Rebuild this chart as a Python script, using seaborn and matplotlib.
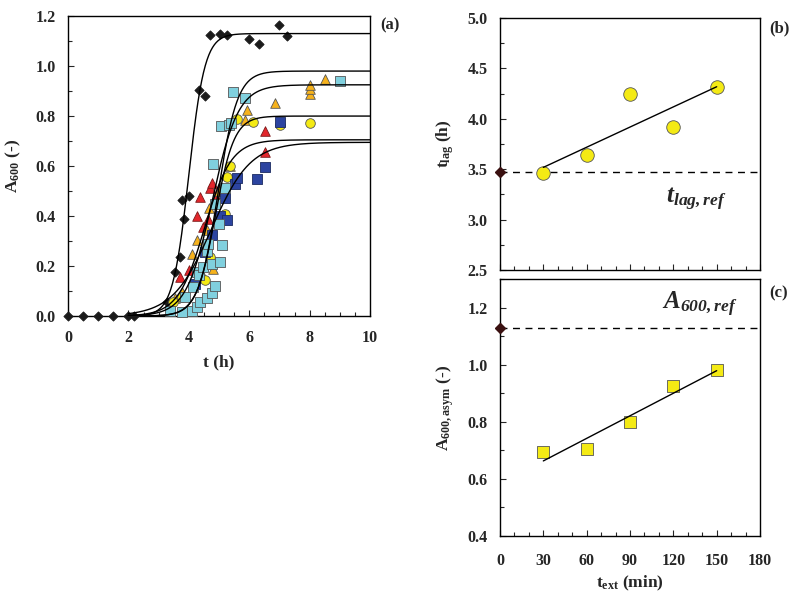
import numpy as np
import pandas as pd
import matplotlib
matplotlib.use("Agg")
import matplotlib.pyplot as plt
import seaborn as sns
from matplotlib.ticker import MultipleLocator

# Panel (a): absorbance vs time, reference culture (black diamonds)
ref_t = [0, 0.5, 1, 1.5, 2, 2.2, 3.28, 3.54, 3.70, 3.76, 3.85, 4.02, 4.35, 4.52,
         4.70, 5.02, 5.26, 6.0, 6.32, 7.0, 7.26]
ref_a = [0, 0, 0, 0, 0, 0, 0.058, 0.175, 0.235, 0.465, 0.39, 0.48, 0.904, 0.88,
         1.125, 1.13, 1.125, 1.11, 1.09, 1.165, 1.12]

# extraction 30 min (dark blue squares)
blue_t = [4.2, 4.54, 4.76, 5.03, 5.2, 5.28, 5.53, 5.61, 6.27, 6.52, 7.02]
blue_a = [0.13, 0.257, 0.325, 0.40, 0.472, 0.384, 0.528, 0.554, 0.548, 0.596, 0.775]

# extraction 60 min (red triangles)
red_t = [3.71, 4.02, 4.26, 4.37, 4.46, 4.62, 4.70, 4.76, 4.90, 5.01, 6.52, 6.52]
red_a = [0.157, 0.185, 0.40, 0.478, 0.355, 0.389, 0.514, 0.531, 0.477, 0.507, 0.657, 0.741]

# extraction 90 min (yellow circles)
yel_t = [3.49, 3.76, 4.54, 4.70, 5.2, 5.28, 5.35, 5.59, 6.11, 7.02, 8.01]
yel_a = [0.057, 0.075, 0.143, 0.236, 0.41, 0.555, 0.60, 0.79, 0.775, 0.765, 0.771]

# extraction 120 min (orange triangles)
ora_t = [3.54, 3.78, 4.12, 4.26, 4.45, 4.59, 4.67, 4.81, 5.0, 5.36, 5.86, 5.94,
         6.84, 8.01, 8.01, 8.01, 8.51]
ora_a = [0.071, 0.095, 0.247, 0.304, 0.17, 0.344, 0.431, 0.19, 0.50, 0.60, 0.786,
         0.826, 0.853, 0.89, 0.907, 0.924, 0.947]

# extraction 150 min (light blue squares)
cya_t = [3.38, 3.76, 3.87, 4.10, 4.15, 4.26, 4.26, 4.35, 4.37, 4.46, 4.59, 4.61,
         4.65, 4.76, 4.76, 4.87, 4.87, 5.01, 5.03, 5.09, 4.79, 5.2, 5.07, 5.32,
         5.40, 5.45, 5.86, 9.0]
cya_a = [0.02, 0.017, 0.077, 0.021, 0.117, 0.037, 0.177, 0.164, 0.055, 0.197,
         0.073, 0.26, 0.288, 0.093, 0.208, 0.121, 0.448, 0.367, 0.215, 0.284,
         0.607, 0.513, 0.76, 0.764, 0.773, 0.897, 0.871, 0.94]

# Panels (b) and (c): fitted parameters vs extraction time
t_ext = [30, 60, 90, 120, 150]
t_lag = [3.46, 3.64, 4.25, 3.92, 4.32]
a_asym = [0.695, 0.705, 0.80, 0.925, 0.98]
mu_max = [0.27, 0.40, 0.64, 0.54, 0.76]
ref_lag = 3.47
ref_asym = 1.13
ref_mu = 1.065


def logistic(t, a, lag, mu):
    return a / (1 + np.exp(4 * mu / a * (lag - t) + 2))


sns.set_style("ticks")
plt.rcParams['font.family'] = ['Liberation Serif', 'DejaVu Serif']
plt.rcParams['font.weight'] = 'bold'
plt.rcParams['mathtext.fontset'] = 'custom'
plt.rcParams['mathtext.rm'] = 'Liberation Serif:bold'
plt.rcParams['mathtext.bf'] = 'Liberation Serif:bold'
plt.rcParams['mathtext.it'] = 'Liberation Serif:italic:bold'
plt.rcParams['mathtext.bfit'] = 'Liberation Serif:italic:bold'
plt.rcParams['axes.linewidth'] = 1.0
plt.rcParams['xtick.direction'] = 'in'
plt.rcParams['ytick.direction'] = 'in'

fig = plt.figure(figsize=(8, 6.02), dpi=100)
ax_a = fig.add_axes([0.085, 0.475, 0.3775, 0.4983])
ax_b = fig.add_axes([0.625, 0.5515, 0.325, 0.4186])
ax_c = fig.add_axes([0.625, 0.1096, 0.325, 0.4269])

edge = '#555555'
series = [
    (ref_t, ref_a, 'D', '#1a1a1a', '#1a1a1a', 22),
    (red_t, red_a, '^', '#e3262b', '#7a1a1a', 48),
    (ora_t, ora_a, '^', '#f6b21c', edge, 48),
    (yel_t, yel_a, 'o', '#f4ea14', edge, 48),
    (blue_t, blue_a, 's', '#2c44a0', '#1a2a60', 42),
    (cya_t, cya_a, 's', '#80d0de', edge, 42),
]
for x, y, m, fc, ec, s in series:
    sns.scatterplot(x=x, y=y, marker=m, color=fc, edgecolor=ec, linewidth=0.6,
                    s=s, ax=ax_a, zorder=3, clip_on=False)

tt = np.linspace(2.0, 10, 400)
sns.lineplot(x=tt, y=logistic(tt, ref_asym, ref_lag, ref_mu), color='black',
             lw=1.0, ax=ax_a, zorder=4)
for a, lag, mu in zip(a_asym, t_lag, mu_max):
    sns.lineplot(x=tt, y=logistic(tt, a, lag, mu), color='black', lw=1.0,
                 ax=ax_a, zorder=4)

ax_a.set_xlim(0, 10)
ax_a.set_ylim(0, 1.2)
ax_a.xaxis.set_major_locator(MultipleLocator(2))
ax_a.xaxis.set_minor_locator(MultipleLocator(0.5))
ax_a.yaxis.set_major_locator(MultipleLocator(0.2))
ax_a.yaxis.set_minor_locator(MultipleLocator(0.1))
ax_a.yaxis.set_major_formatter(matplotlib.ticker.FormatStrFormatter('%.1f'))
ax_a.set_xlabel('t (h)', fontsize=12.5, fontweight='bold', labelpad=6)
ax_a.set_ylabel(r'A$_{\mathbf{600}}$ (-)', fontsize=12.5, fontweight='bold', labelpad=9)
ax_a.text(1.035, 0.995, '(a)', transform=ax_a.transAxes, fontsize=12,
          fontweight='bold', ha='left', va='top')

# Panel (b)
sns.scatterplot(x=t_ext, y=t_lag, marker='o', color='#f4ea14', edgecolor=edge,
                linewidth=0.6, s=95, ax=ax_b, zorder=3)
slope_b, icpt_b = np.polyfit(t_ext, t_lag, 1)
xf = np.array([t_ext[0], t_ext[-1]])
sns.lineplot(x=xf, y=slope_b * xf + icpt_b, color='black', lw=1.0, ax=ax_b, zorder=4)
ax_b.axhline(ref_lag, color='black', lw=1.0, ls=(0, (5, 4)), zorder=2)
ax_b.plot([0], [ref_lag], marker='D', color='#3a1010', ms=5.5, clip_on=False, zorder=5)
ax_b.text(136, 3.2, r'$\mathbfit{t_{lag,ref}}$', fontsize=18, ha='center', va='center')
ax_b.set_xlim(0, 180)
ax_b.set_ylim(2.5, 5.0)
ax_b.yaxis.set_major_locator(MultipleLocator(0.5))
ax_b.yaxis.set_minor_locator(MultipleLocator(0.25))
ax_b.yaxis.set_major_formatter(matplotlib.ticker.FormatStrFormatter('%.1f'))
ax_b.xaxis.set_major_locator(MultipleLocator(30))
ax_b.xaxis.set_minor_locator(MultipleLocator(10))
ax_b.tick_params(axis='x', labelbottom=False)
ax_b.set_ylabel(r't$_{\mathbf{lag}}$ (h)', fontsize=12.5, fontweight='bold', labelpad=8)
ax_b.text(1.035, 0.99, '(b)', transform=ax_b.transAxes, fontsize=12,
          fontweight='bold', ha='left', va='top')

# Panel (c)
sns.scatterplot(x=t_ext, y=a_asym, marker='s', color='#f4ea14', edgecolor=edge,
                linewidth=0.6, s=80, ax=ax_c, zorder=3)
slope_c, icpt_c = np.polyfit(t_ext, a_asym, 1)
sns.lineplot(x=xf, y=slope_c * xf + icpt_c, color='black', lw=1.0, ax=ax_c, zorder=4)
ax_c.axhline(ref_asym, color='black', lw=1.0, ls=(0, (5, 4)), zorder=2)
ax_c.plot([0], [ref_asym], marker='D', color='#3a1010', ms=5.5, clip_on=False, zorder=5)
ax_c.text(138, 1.21, r'$\mathbfit{A_{600,ref}}$', fontsize=18, ha='center', va='center')
ax_c.set_xlim(0, 180)
ax_c.set_ylim(0.4, 1.3)
ax_c.set_yticks([0.4, 0.6, 0.8, 1.0, 1.2])
ax_c.yaxis.set_minor_locator(MultipleLocator(0.1))
ax_c.yaxis.set_major_formatter(matplotlib.ticker.FormatStrFormatter('%.1f'))
ax_c.xaxis.set_major_locator(MultipleLocator(30))
ax_c.xaxis.set_minor_locator(MultipleLocator(10))
ax_c.set_xlabel(r't$_{\mathbf{ext}}$ (min)', fontsize=12.5, fontweight='bold', labelpad=4)
ax_c.set_ylabel(r'A$_{\mathbf{600,asym}}$ (-)', fontsize=12.5, fontweight='bold', labelpad=8)
ax_c.text(1.035, 0.975, '(c)', transform=ax_c.transAxes, fontsize=12,
          fontweight='bold', ha='left', va='top')

for ax in (ax_a, ax_b, ax_c):
    for sp in ax.spines.values():
        sp.set_visible(True)
        sp.set_color('black')
    ax.tick_params(which='major', length=4, width=0.8, labelsize=11.5, pad=9,
                   top=False, right=False)
    ax.tick_params(which='minor', length=3, width=0.8, top=False, right=False)
    for lab in ax.get_xticklabels() + ax.get_yticklabels():
        lab.set_fontweight('bold')

ax_a.tick_params(axis='x', which='major', pad=10)
ax_c.tick_params(axis='x', which='major', pad=12)

fig.savefig('out.png', dpi=100)
